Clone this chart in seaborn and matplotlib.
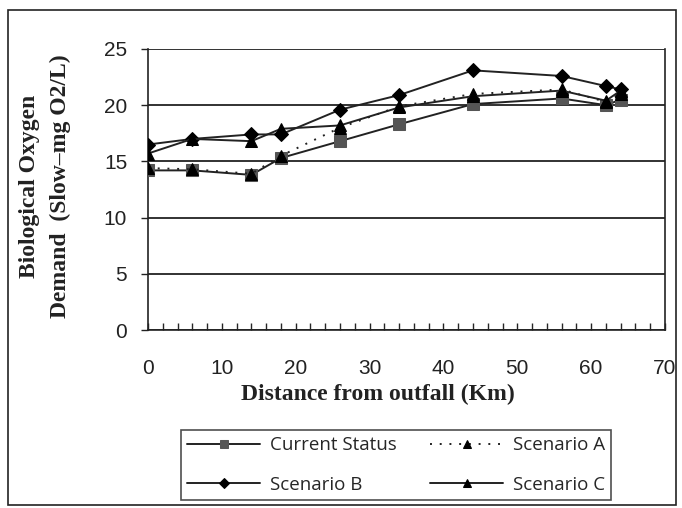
import matplotlib
matplotlib.use("Agg")
import matplotlib.pyplot as plt
import seaborn as sns
import pandas as pd
from matplotlib.patches import Rectangle
from matplotlib.ticker import MultipleLocator

distance = [0, 6, 14, 18, 26, 34, 44, 56, 62, 64]
current_status = [14.2, 14.2, 13.8, 15.3, 16.8, 18.3, 20.1, 20.6, 20.0, 20.5]
scenario_a = [14.4, 14.3, 13.9, 15.5, 18.0, 19.9, 21.0, 21.4, 20.3, 21.0]
scenario_b = [16.5, 17.0, 17.4, 17.4, 19.6, 20.9, 23.1, 22.6, 21.7, 21.4]
scenario_c = [15.7, 17.0, 16.8, 17.9, 18.2, 19.8, 20.8, 21.3, 20.4, 21.3]

sns.set_style("white")
plt.rcParams['font.family'] = ['Liberation Sans', 'DejaVu Sans']

fig = plt.figure(figsize=(6.82, 5.08), dpi=100)
ax = fig.add_axes([148/682, 1-330/508, (665-148)/682, (330-49)/508])

series = [
    ("Current Status", current_status, "s", "-", "#555555"),
    ("Scenario A", scenario_a, "^", (0, (1, 4)), "black"),
    ("Scenario B", scenario_b, "D", "-", "black"),
    ("Scenario C", scenario_c, "^", "-", "black"),
]
for name, vals, mk, ls, mc in series:
    df = pd.DataFrame({"x": distance, "y": vals})
    sns.lineplot(data=df, x="x", y="y", ax=ax, color="#222222", linestyle=ls,
                 linewidth=1.4, marker=mk, markersize=8 if mk != "D" else 7,
                 markerfacecolor=mc, markeredgecolor=mc, label=name, zorder=3)

ax.set_xlim(0, 70)
ax.set_ylim(0, 25)
ax.set_yticks([0, 5, 10, 15, 20, 25])
ax.set_xticks(range(0, 71, 10))
ax.xaxis.set_minor_locator(MultipleLocator(2))
ax.yaxis.grid(True, color="#222222", linewidth=1.3)
ax.set_axisbelow(True)
for s in ["left", "bottom", "right"]:
    ax.spines[s].set_visible(True)
    ax.spines[s].set_color("#222222")
    ax.spines[s].set_linewidth(1.2)
ax.spines["top"].set_visible(False)
ax.tick_params(axis="x", which="major", direction="in", length=5, width=1, pad=21,
               labelsize=15, colors="#222222", top=False, bottom=True)
ax.tick_params(axis="x", which="minor", direction="in", length=5, width=1, bottom=True)
ax.tick_params(axis="y", direction="out", length=5, width=1, pad=10, labelsize=15,
               colors="#222222", left=True)
ax.set_xlabel("")
ax.set_ylabel("")

fig.text(378/682, 1-394/508, "Distance from outfall (Km)", ha="center", va="center",
         fontsize=17, fontweight="bold", family="Liberation Serif", color="#222222")
fig.text(45/682, 1-186/508, "Biological Oxygen\nDemand  (Slow\u2013mg O2/L)", ha="center",
         va="center", rotation=90, fontsize=17, fontweight="bold",
         family="Liberation Serif", color="#222222", multialignment="center",
         linespacing=1.55)

h, l = ax.get_legend_handles_labels()
ax.get_legend().remove()
order = [0, 2, 1, 3]
leg = fig.legend([h[i] for i in order], [l[i] for i in order], ncol=2,
                 loc="center", bbox_to_anchor=(396/682, 1-465/508),
                 frameon=True, fancybox=False, edgecolor="#222222",
                 prop={"family": "Open Sans", "size": 13.5}, handlelength=3.9,
                 handletextpad=0.5, markerscale=0.75,
                 columnspacing=1.8, borderpad=0.35, labelspacing=1.15)
leg.get_frame().set_linewidth(1.2)

fig.patches.append(Rectangle((8/682, 1-505/508), (676-8)/682, (505-10)/508,
                             transform=fig.transFigure, fill=False,
                             edgecolor="#222222", linewidth=1.2))

fig.savefig("out.png", dpi=100)
